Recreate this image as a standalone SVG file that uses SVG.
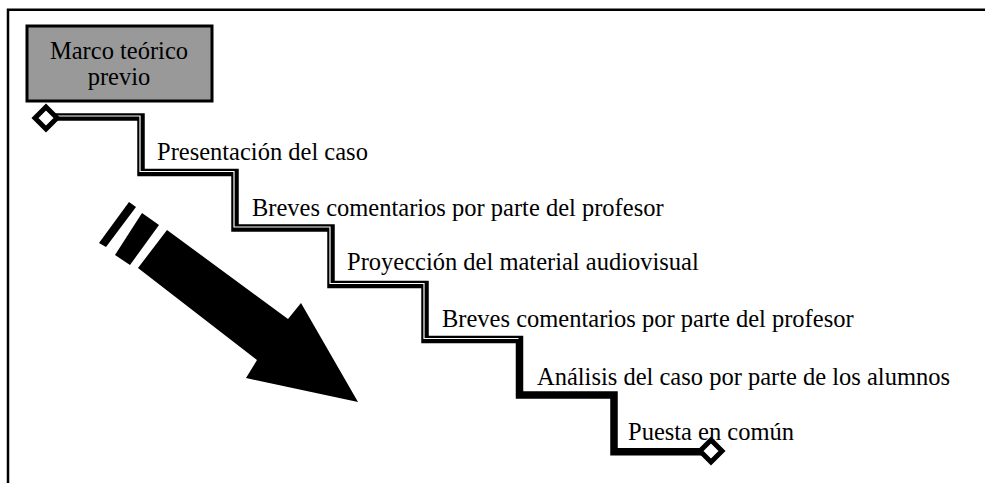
<svg xmlns="http://www.w3.org/2000/svg" width="985" height="483" viewBox="0 0 985 483">
<style>
text{font-family:"Liberation Serif","Times New Roman",serif;font-size:24.5px;fill:#000}
.stair{fill:none;stroke:#000;stroke-width:7.5;stroke-linejoin:miter}
.inner{fill:none;stroke:#fff;stroke-width:1.2}
.dia{fill:#fff;stroke:#000;stroke-width:5}
</style>
<rect width="985" height="483" fill="#fff"/>
<g id="frame">
<path d="M8 483 V9.7 H985" fill="none" stroke="#000" stroke-width="2.5"/>
</g>
<g id="marco">
<rect x="27" y="26" width="185" height="75" fill="#999" stroke="#000" stroke-width="3"/>
<text x="119" y="59" text-anchor="middle">Marco teórico</text>
<text x="119" y="85" text-anchor="middle">previo</text>
</g>
<g id="connectors">
<path class="stair" d="M46 117 H141 V172.5 H235 V228 H331 V284.5 H425 V339.5 H519.5 V395 H614 V451.7 H711"/>
<path class="inner" d="M46 116 H140 V171.5 H234 V227 H330 V283.5 H424 V338.5 H518.5"/>
<polygon class="dia" points="46,107 57,118 46,129 35,118"/>
<polygon class="dia" points="711,440 722,451 711,462 700,451"/>
</g>
<g id="arrow">
<polygon points="167,230 288,319 301,303 358,402 246,378 257,360 138,268" fill="#000"/>
<polygon points="142,213 159,225 130,265 115,255" fill="#000"/>
<polygon points="129,202 136,207 106,247 99,243" fill="#000"/>
</g>
<g id="step1"><text x="157" y="160">Presentación del caso</text></g>
<g id="step2"><text x="252" y="216">Breves comentarios por parte del profesor</text></g>
<g id="step3"><text x="347" y="270">Proyección del material audiovisual</text></g>
<g id="step4"><text x="442" y="327">Breves comentarios por parte del profesor</text></g>
<g id="step5"><text x="537" y="385">Análisis del caso por parte de los alumnos</text></g>
<g id="step6"><text x="628" y="440">Puesta en común</text></g>
</svg>
